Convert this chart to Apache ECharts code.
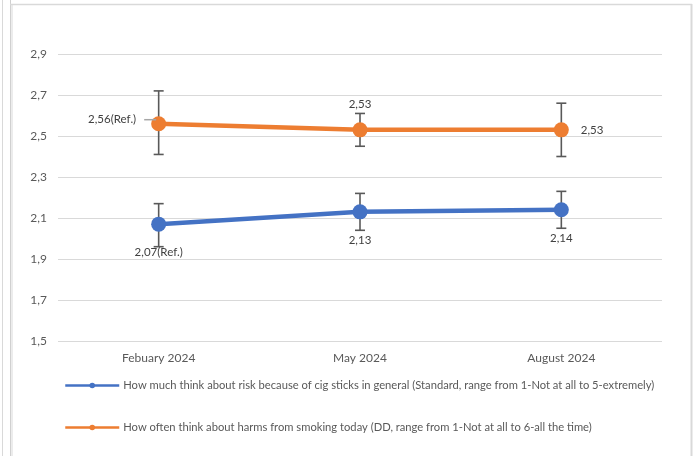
<!DOCTYPE html>
<html>
<head>
<meta charset="utf-8">
<script src="https://cdn.jsdelivr.net/npm/echarts@6/dist/echarts.min.js"></script>
<style>
html,body{margin:0;padding:0;background:#fff;}
#chart{width:699px;height:456px;}
</style>
</head>
<body>
<div id="chart"></div>
<script>
const categories = ['Febuary 2024', 'May 2024', 'August 2024'];
const riskName = 'How much think about risk because of cig sticks in general (Standard, range from 1-Not at all to 5-extremely)';
const harmName = 'How often think about harms from smoking today (DD, range from 1-Not at all to 6-all the time)';
const riskMean = [2.07, 2.13, 2.14];
const riskLow = [1.96, 2.04, 2.05];
const riskHigh = [2.17, 2.22, 2.23];
const harmMean = [2.56, 2.53, 2.53];
const harmLow = [2.41, 2.45, 2.40];
const harmHigh = [2.72, 2.61, 2.66];
const refFlags = [true, false, false];
const yMin = 1.5, yMax = 2.9, yStep = 0.2;

const FONT = 'Lato';
const BLUE = '#4472C4', ORANGE = '#ED7D31';
const fmt = v => v.toFixed(2).replace('.', ',');
const sh = v => +(v - yMin).toFixed(4);

function errSeries(low, high) {
  return {
    type: 'custom',
    z: 1,
    silent: true,
    data: low.map((l, i) => [i, sh(l), sh(high[i])]),
    renderItem: function (params, api) {
      const i = api.value(0);
      const p1 = api.coord([i, api.value(1)]);
      const p2 = api.coord([i, api.value(2)]);
      const w = 5;
      const st = { stroke: '#595959', lineWidth: 1.6 };
      return {
        type: 'group',
        children: [
          { type: 'line', shape: { x1: p1[0], y1: p1[1], x2: p2[0], y2: p2[1] }, style: st },
          { type: 'line', shape: { x1: p1[0] - w, y1: p1[1], x2: p1[0] + w, y2: p1[1] }, style: st },
          { type: 'line', shape: { x1: p2[0] - w, y1: p2[1], x2: p2[0] + w, y2: p2[1] }, style: st }
        ]
      };
    }
  };
}

const labelBase = { show: true, color: '#404040', fontFamily: FONT, fontSize: 11.5 };

const riskData = riskMean.map((v, i) => ({
  value: sh(v),
  label: Object.assign({}, labelBase, {
    position: 'bottom', distance: 15,
    formatter: () => fmt(v) + (refFlags[i] ? '(Ref.)' : '')
  })
}));
const harmPos = ['left', 'top', 'right'];
const harmData = harmMean.map((v, i) => {
  const pos = harmPos[i];
  const lab = Object.assign({}, labelBase, { position: pos, distance: 12 });
  if (refFlags[i]) {
    lab.distance = -5;
    lab.offset = [0, -4];
    lab.formatter = () => '{t|' + fmt(v) + '(Ref.)}{s|}{g|}';
    lab.rich = {
      t: { color: '#404040', fontFamily: FONT, fontSize: 11.5 },
      s: { width: 8, height: 1 },
      g: { width: 12, height: 1.5, backgroundColor: '#a6a6a6' }
    };
  } else {
    lab.formatter = () => fmt(v);
  }
  return { value: sh(v), label: lab };
});

const chart = echarts.init(document.getElementById('chart'), null, { renderer: 'canvas' });
chart.setOption({
  animation: false,
  backgroundColor: '#fff',
  graphic: [
    { type: 'line', shape: { x1: 2.5, y1: 0, x2: 2.5, y2: 456 }, style: { stroke: '#d9d9d9', lineWidth: 1 } },
    { type: 'line', shape: { x1: 10.5, y1: 0, x2: 10.5, y2: 456 }, style: { stroke: '#d0d0d0', lineWidth: 1 } },
    { type: 'line', shape: { x1: 12, y1: 4, x2: 12, y2: 456 }, style: { stroke: '#e6e6e6', lineWidth: 1.5 } },
    { type: 'line', shape: { x1: 10, y1: 4.5, x2: 692, y2: 4.5 }, style: { stroke: '#d9d9d9', lineWidth: 1.5 } },
    { type: 'line', shape: { x1: 691.5, y1: 4, x2: 691.5, y2: 456 }, style: { stroke: '#d9d9d9', lineWidth: 2 } }
  ],
  grid: { left: 58, right: 37, top: 54, bottom: 115, containLabel: false },
  legend: {
    orient: 'vertical',
    left: 59,
    top: 375,
    itemGap: 31,
    itemWidth: 54,
    itemHeight: 7,
    textStyle: { color: '#595959', fontFamily: FONT, fontSize: 11.2, padding: [0, 0, 0, -1] },
    lineStyle: { width: 2.5 },
    data: [riskName, harmName]
  },
  xAxis: {
    type: 'category',
    data: categories,
    boundaryGap: true,
    axisLine: { show: false },
    axisTick: { show: false },
    axisLabel: { color: '#595959', fontFamily: FONT, fontSize: 12, margin: 11 }
  },
  yAxis: {
    type: 'value',
    min: 0,
    max: sh(yMax),
    interval: yStep,
    axisLine: { show: false },
    axisTick: { show: false },
    axisLabel: {
      color: '#595959', fontFamily: FONT, fontSize: 12, margin: 11,
      formatter: v => (v + yMin).toFixed(1).replace('.', ',')
    },
    splitLine: { lineStyle: { color: '#d9d9d9', width: 1 } }
  },
  series: [
    errSeries(riskLow, riskHigh),
    errSeries(harmLow, harmHigh),
    {
      name: riskName, type: 'line', z: 3, data: riskData,
      symbol: 'circle', symbolSize: 15,
      lineStyle: { color: BLUE, width: 4.5 },
      itemStyle: { color: BLUE }
    },
    {
      name: harmName, type: 'line', z: 3, data: harmData,
      symbol: 'circle', symbolSize: 15,
      lineStyle: { color: ORANGE, width: 4.5 },
      itemStyle: { color: ORANGE }
    }
  ]
});
</script>
</body>
</html>
